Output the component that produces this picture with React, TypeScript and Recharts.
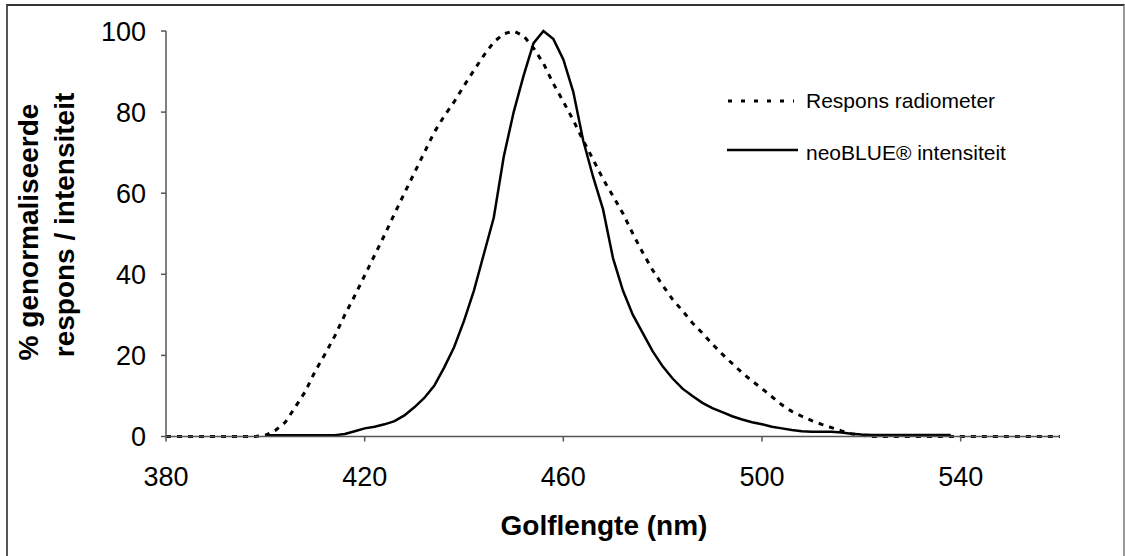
import React from "react";
import { LineChart, Line, XAxis, YAxis, Legend } from "recharts";

const wavelengths = [
  380, 382, 384, 386, 388, 390, 392, 394, 396, 398,
  400, 402, 404, 406, 408, 410, 412, 414, 416, 418,
  420, 422, 424, 426, 428, 430, 432, 434, 436, 438,
  440, 442, 444, 446, 448, 450, 452, 454, 456, 458,
  460, 462, 464, 466, 468, 470, 472, 474, 476, 478,
  480, 482, 484, 486, 488, 490, 492, 494, 496, 498,
  500, 502, 504, 506, 508, 510, 512, 514, 516, 518,
  520, 522, 524, 526, 528, 530, 532, 534, 536, 538,
  540, 542, 544, 546, 548, 550, 552, 554, 556, 558, 560,
];

const radiometer = [
  0, 0, 0, 0, 0, 0, 0, 0, 0, 0,
  0.3, 1.5, 3.5, 7.2, 11, 16, 20.3, 24.8, 30, 34.7,
  39.7, 44.7, 49.7, 54.9, 60, 65, 70, 75, 79, 82.5,
  86.5, 90.3, 94, 97.3, 99.3, 100, 98.8, 95.8, 92, 87,
  82.6, 78, 73, 68.3, 63.5, 59.3, 55, 50, 45.3, 41,
  37.3, 33.8, 31, 28, 25.5, 22.8, 20.3, 18, 15.7, 13.7,
  11.8, 9.8, 7.8, 6.2, 5, 3.9, 3, 2.2, 1.4, 0.7,
  0.3, 0, 0, 0, 0, 0, 0, 0, 0, 0,
  0, 0, 0, 0, 0, 0, 0, 0, 0, 0, 0,
];

const neoBlue = [
  null, null, null, null, null, null, null, null, null, null,
  0.3, 0.3, 0.3, 0.3, 0.3, 0.3, 0.3, 0.3, 0.6, 1.3,
  2, 2.4, 3, 3.8, 5.2, 7.2, 9.5, 12.5, 17, 22,
  28.5, 36, 45, 54, 69, 80, 89, 97, 100, 98,
  93, 85, 73, 64, 56, 44, 36, 30, 25.5, 21,
  17.3, 14.3, 11.8, 10, 8.3, 7, 6, 5, 4.2, 3.5,
  3, 2.4, 2, 1.6, 1.3, 1.2, 1.2, 1.2, 1, 0.7,
  0.5, 0.4, 0.4, 0.4, 0.4, 0.4, 0.4, 0.4, 0.4, 0.4,
  null, null, null, null, null, null, null, null, null, null, null,
];

const xTicks = [380, 420, 460, 500, 540];
const yTicks = [0, 20, 40, 60, 80, 100];

const data = wavelengths.map((nm, i) => ({
  nm,
  radiometer: radiometer[i],
  neoBlue: neoBlue[i],
}));

const FONT = "Arial, 'Liberation Sans', sans-serif";
const AXIS = "#555";

function ChartLegend() {
  return (
    <div style={{ position: "relative", width: 360, height: 100, fontFamily: FONT, fontSize: 21, color: "#000" }}>
      <svg width={80} height={100} style={{ position: "absolute", left: 0, top: 0 }}>
        <line x1={8} x2={74} y1={21} y2={21} stroke="#000" strokeWidth={3} strokeDasharray="4 9" />
        <line x1={7} x2={78} y1={70} y2={70} stroke="#000" strokeWidth={2.5} />
      </svg>
      <div style={{ position: "absolute", left: 86, top: 8, whiteSpace: "nowrap", lineHeight: "26px" }}>
        Respons radiometer
      </div>
      <div style={{ position: "absolute", left: 86, top: 60, whiteSpace: "nowrap", lineHeight: "26px" }}>
        neoBLUE® intensiteit
      </div>
    </div>
  );
}

export default function App() {
  return (
    <div style={{ position: "absolute", left: 0, top: 0, width: 1125, height: 556, overflow: "hidden", background: "#fff" }}>
      <div
        style={{
          position: "absolute",
          left: 6,
          top: 4,
          width: 1115,
          height: 600,
          borderTop: "2px solid #333",
          borderLeft: "2px solid #555",
          borderRight: "2px solid #999",
        }}
      />
      <LineChart
        width={1125}
        height={556}
        data={data}
        margin={{ top: 31, right: 65, bottom: 0, left: 0 }}
        style={{ position: "absolute", left: 0, top: 0 }}
      >
        <XAxis
          dataKey="nm"
          type="number"
          domain={[380, 560]}
          ticks={xTicks}
          height={119.5}
          tickSize={5}
          tickMargin={25}
          stroke={AXIS}
          strokeWidth={1.5}
          tick={{ fill: "#000", fontSize: 27, fontFamily: FONT }}
        />
        <YAxis
          type="number"
          domain={[0, 100]}
          ticks={yTicks}
          width={166}
          tickSize={5}
          tickMargin={15}
          stroke={AXIS}
          strokeWidth={1.5}
          tick={{ fill: "#000", fontSize: 27, fontFamily: FONT }}
        />
        <Legend
          layout="horizontal"
          verticalAlign="middle"
          align="center"
          content={<ChartLegend />}
          wrapperStyle={{ position: "absolute", left: 720, top: 80, width: 360, height: 100 }}
        />
        <Line
          type="linear"
          dataKey="radiometer"
          name="Respons radiometer"
          stroke="#000"
          strokeWidth={3}
          strokeDasharray="5 6"
          dot={false}
          isAnimationActive={false}
        />
        <Line
          type="linear"
          dataKey="neoBlue"
          name="neoBLUE® intensiteit"
          stroke="#000"
          strokeWidth={2.5}
          dot={false}
          connectNulls={false}
          isAnimationActive={false}
        />
      </LineChart>
      <svg
        width={1125}
        height={556}
        style={{ position: "absolute", left: 0, top: 0, pointerEvents: "none" }}
        fontFamily={FONT}
        fontWeight="bold"
        fontSize={28}
      >
        <text x={604} y={535} textAnchor="middle">Golflengte (nm)</text>
        <text x={38} y={232} textAnchor="middle" transform="rotate(-90 38 232)">% genormaliseerde</text>
        <text x={74} y={225} textAnchor="middle" transform="rotate(-90 74 225)">respons / intensiteit</text>
      </svg>
    </div>
  );
}
